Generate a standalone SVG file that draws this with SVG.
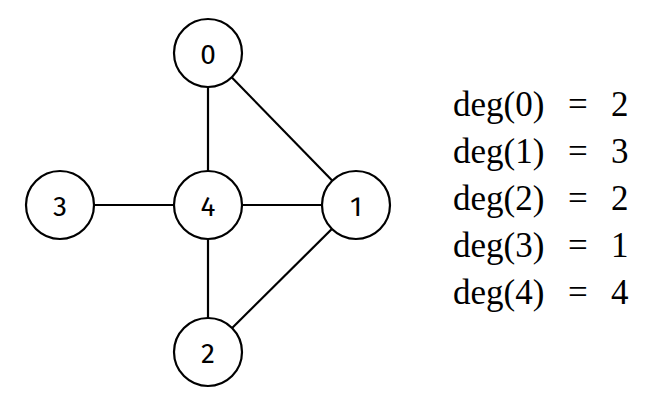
<svg xmlns="http://www.w3.org/2000/svg" width="662" height="408" viewBox="0 0 662 408">
<style>
.n circle{fill:#fff;stroke:#000;stroke-width:2.2}
.n text{font-family:"Fira Sans","Open Sans","DejaVu Sans",sans-serif;font-size:28px;text-anchor:middle;dominant-baseline:central}
.e line{stroke:#000;stroke-width:2.2}
.d{font-family:"Liberation Serif","DejaVu Serif",serif;font-size:35px}
</style>
<rect width="662" height="408" fill="#fff"/>
<g class="e" id="edges">
<line x1="208" y1="53" x2="208" y2="205"/>
<line x1="208" y1="53" x2="356" y2="205"/>
<line x1="60" y1="205" x2="356" y2="205"/>
<line x1="208" y1="205" x2="208" y2="352"/>
<line x1="208" y1="352" x2="356" y2="205"/>
</g>
<g class="n" id="node0"><circle cx="208" cy="53" r="34"/><text x="208" y="54">0</text></g>
<g class="n" id="node1"><circle cx="356" cy="205" r="34"/><text x="356" y="206">1</text></g>
<g class="n" id="node2"><circle cx="208" cy="352" r="34"/><text x="208" y="353">2</text></g>
<g class="n" id="node3"><circle cx="60" cy="205" r="34"/><text x="60" y="206">3</text></g>
<g class="n" id="node4"><circle cx="208" cy="205" r="34"/><text x="208" y="206">4</text></g>
<g id="degrees" class="d">
<text x="453" y="116">deg(0)<tspan x="568">=</tspan><tspan x="611">2</tspan></text>
<text x="453" y="163">deg(1)<tspan x="568">=</tspan><tspan x="611">3</tspan></text>
<text x="453" y="210">deg(2)<tspan x="568">=</tspan><tspan x="611">2</tspan></text>
<text x="453" y="257">deg(3)<tspan x="568">=</tspan><tspan x="611">1</tspan></text>
<text x="453" y="304">deg(4)<tspan x="568">=</tspan><tspan x="611">4</tspan></text>
</g>
</svg>
